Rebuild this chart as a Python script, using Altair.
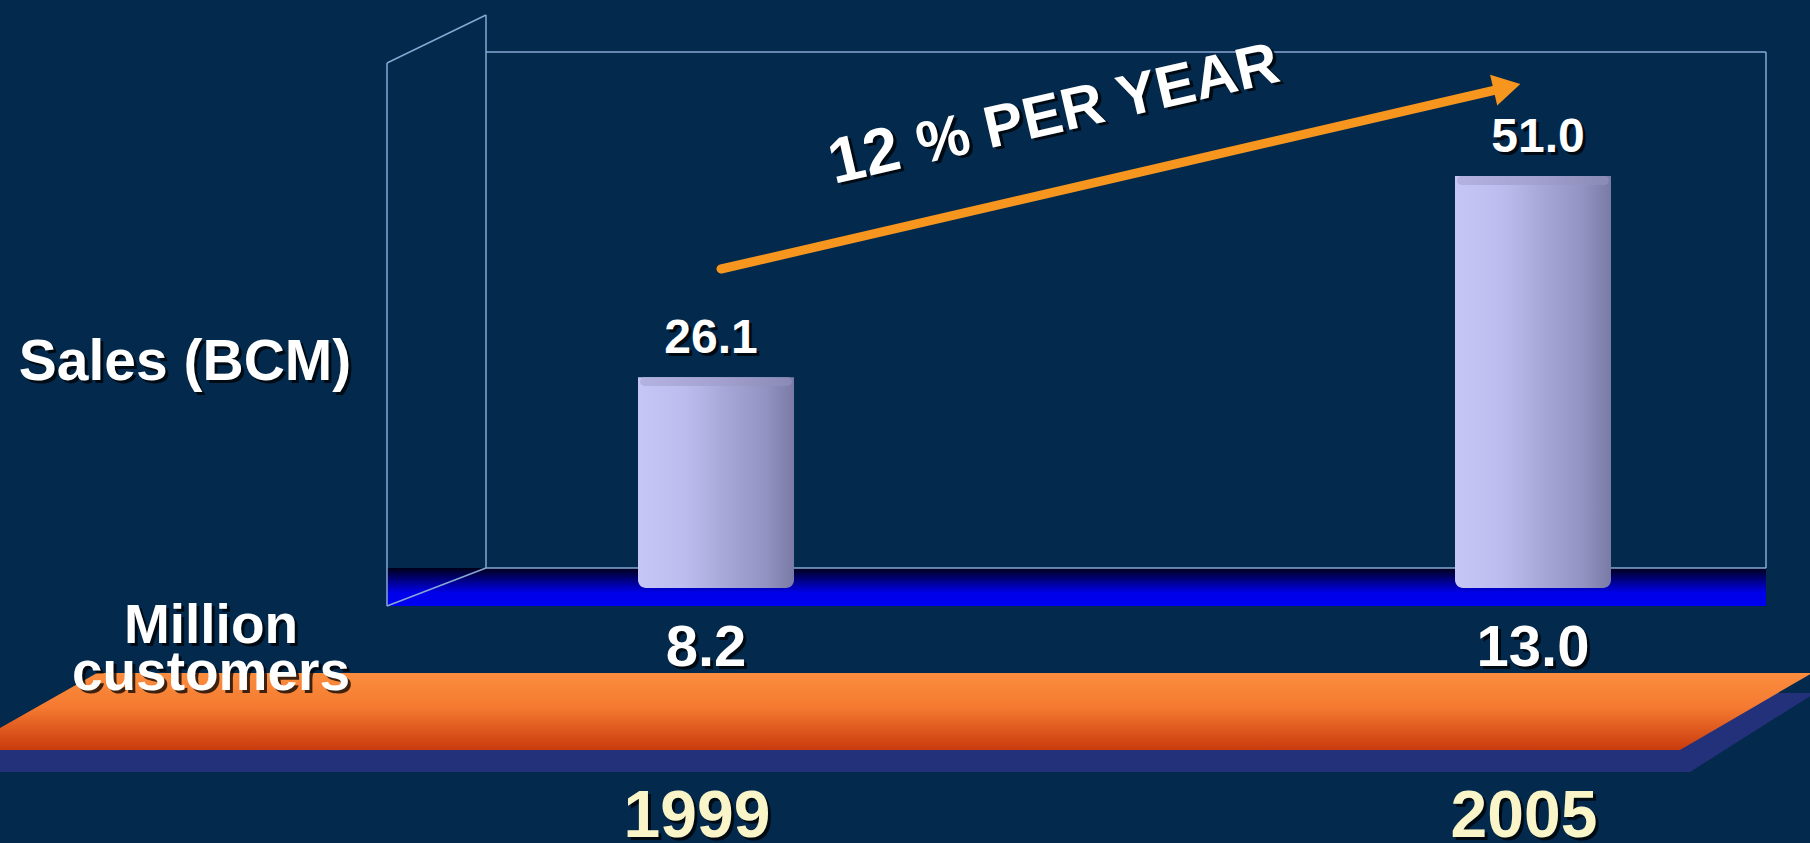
import altair as alt
import pandas as pd

# ---------------- data ----------------
years = [1999, 2005]
sales_bcm = [26.1, 51.0]
million_customers = [8.2, 13.0]
year_labels = ["1999", "2005"]

sales_title = "Sales (BCM)"
customers_title = ["Million", "customers"]
growth_big = "12"
growth_rest = "% PER YEAR"

df = pd.DataFrame({
    "year": years,
    "sales": sales_bcm,
    "customers": million_customers,
    "year_label": year_labels,
})
one = pd.DataFrame({"k": [0]})

# ---------------- styling ----------------
BG = "#03294d"
FONT = "Liberation Sans"
FRAME = "#87a7d4"
WHITE = "#ffffff"
SHADOW = "#000000"

x_scale = alt.Scale(domain=[1999, 2005], range=[711, 1538], zero=False, nice=False)
y_scale = alt.Scale(domain=[0, 51], range=[588, 176], zero=True, nice=False)
X = alt.X("year:Q", scale=x_scale, axis=None)

# ---------------- decorations ----------------
band_shape = pd.DataFrame({"y": [673, 750], "xl": [97, -39], "xr": [1812, 1680]})
shadow_shape = pd.DataFrame({"y": [693, 772], "xl": [97, -45], "xr": [1815, 1690]})

shadow_band = alt.Chart(shadow_shape).mark_area(orient="horizontal", color="#23307a").encode(
    y=alt.Y("y:Q", scale=None, axis=None),
    x=alt.X("xl:Q", scale=None, axis=None),
    x2="xr:Q",
)
orange_band = alt.Chart(band_shape).mark_area(
    orient="horizontal",
    color=alt.LinearGradient(
        gradient="linear", x1=0, y1=0, x2=0, y2=1,
        stops=[alt.GradientStop(offset=0, color="#fb8d3f"),
               alt.GradientStop(offset=0.45, color="#f47a30"),
               alt.GradientStop(offset=1, color="#c93a0d")],
    ),
).encode(
    y=alt.Y("y:Q", scale=None, axis=None),
    x=alt.X("xl:Q", scale=None, axis=None),
    x2="xr:Q",
)

floor = alt.Chart(one).mark_rect(
    color=alt.LinearGradient(
        gradient="linear", x1=0, y1=0, x2=0, y2=1,
        stops=[alt.GradientStop(offset=0, color="#000018"),
               alt.GradientStop(offset=0.35, color="#00008c"),
               alt.GradientStop(offset=0.65, color="#0000e8"),
               alt.GradientStop(offset=1, color="#0000f2")],
    )
).encode(x=alt.value(387), x2=alt.value(1766), y=alt.value(568), y2=alt.value(606))

frame_segments = [
    (486, 52, 1766, 52),
    (1766, 52, 1766, 568),
    (486, 568, 1766, 568),
    (486, 15, 486, 568),
    (387, 63, 486, 15),
    (387, 63, 387, 606),
    (387, 606, 486, 568),
]
frame_layers = [
    alt.Chart(one).mark_rule(color=FRAME, strokeWidth=1.5).encode(
        x=alt.value(a), y=alt.value(b), x2=alt.value(c), y2=alt.value(d)
    )
    for a, b, c, d in frame_segments
]

arrow_line = alt.Chart(one).mark_rule(color="#f7961f", strokeWidth=9, strokeCap="round").encode(
    x=alt.value(721), y=alt.value(269), x2=alt.value(1500), y2=alt.value(89)
)
arrow_head = alt.Chart(one).mark_point(
    shape="triangle-right", filled=True, color="#f7961f", opacity=1, size=1000, angle=347
).encode(x=alt.value(1507), y=alt.value(87))

# ---------------- bars (cylinders) ----------------
bars = alt.Chart(df).mark_bar(
    size=156,
    cornerRadiusBottomLeft=8, cornerRadiusBottomRight=8,
    color=alt.LinearGradient(
        gradient="linear", x1=0, y1=0, x2=1, y2=0,
        stops=[alt.GradientStop(offset=0, color="#c6c6f6"),
               alt.GradientStop(offset=0.3, color="#bcbcee"),
               alt.GradientStop(offset=0.55, color="#a8a8d8"),
               alt.GradientStop(offset=0.82, color="#9393c3"),
               alt.GradientStop(offset=1, color="#7a7aa6")],
    ),
).encode(
    x=X,
    y=alt.Y("sales:Q", scale=y_scale, axis=None),
    y2=alt.Y2(datum=0),
)
caps = alt.Chart(df).transform_calculate(cap="datum.sales - 1.1").mark_bar(
    size=152, cornerRadius=7,
    color=alt.LinearGradient(
        gradient="linear", x1=0, y1=0, x2=1, y2=0,
        stops=[alt.GradientStop(offset=0, color="#b4b2e0"),
               alt.GradientStop(offset=0.5, color="#a4a2d0"),
               alt.GradientStop(offset=1, color="#8a8ab6")],
    ),
).encode(
    x=X,
    y=alt.Y("sales:Q", scale=y_scale, axis=None),
    y2="cap:Q",
)

# ---------------- text ----------------
def shadowed(chart_fn):
    return [chart_fn(SHADOW, 3, 3, 0.75), chart_fn(WHITE, 0, 0, 1)]

def sales_labels(col, dx, dy, op):
    return alt.Chart(df).mark_text(
        font=FONT, fontSize=48, fontWeight="bold", color=col, opacity=op,
        baseline="alphabetic", align="center", dx=dx, dy=-24 + dy,
    ).encode(x=X, y=alt.Y("sales:Q", scale=y_scale, axis=None),
             text=alt.Text("sales:Q", format=".1f"))

def cust_labels(col, dx, dy, op):
    return alt.Chart(df).mark_text(
        font=FONT, fontSize=58, fontWeight="bold", color=col, opacity=op,
        baseline="alphabetic", align="center", dx=-5 + dx, dy=dy,
    ).encode(x=X, y=alt.value(666), text=alt.Text("customers:Q", format=".1f"))

def year_text(col, dx, dy, op):
    c = "#f9f5c9" if col == WHITE else col
    return alt.Chart(df).mark_text(
        font=FONT, fontSize=66, fontWeight="bold", color=c, opacity=op,
        baseline="alphabetic", align="center", dx=-14 + dx, dy=dy,
    ).encode(x=X, y=alt.value(837), text=alt.Text("year_label:N"))

def sales_title_text(col, dx, dy, op):
    return alt.Chart(one).mark_text(
        font=FONT, fontSize=57, fontWeight="bold", color=col, opacity=op,
        baseline="alphabetic", align="center", dx=dx, dy=dy,
    ).encode(x=alt.value(185), y=alt.value(380), text=alt.value(sales_title))

def cust_title_text(col, dx, dy, op):
    return alt.Chart(one).mark_text(
        font=FONT, fontSize=55, fontWeight="bold", color=col, opacity=op,
        baseline="alphabetic", align="center", lineHeight=47, dx=dx, dy=dy,
    ).encode(x=alt.value(211), y=alt.value(643), text=alt.value(customers_title))

def growth_big_text(col, dx, dy, op):
    return alt.Chart(one).mark_text(
        font=FONT, fontSize=64, fontWeight="bold", color=col, opacity=op,
        baseline="alphabetic", align="left", angle=347, dx=dx, dy=dy,
    ).encode(x=alt.value(834), y=alt.value(184), text=alt.value(growth_big))

def growth_rest_text(col, dx, dy, op):
    return alt.Chart(one).mark_text(
        font=FONT, fontSize=59, fontWeight="bold", color=col, opacity=op,
        baseline="alphabetic", align="left", angle=347, dx=dx, dy=dy,
    ).encode(x=alt.value(922), y=alt.value(164), text=alt.value(growth_rest))

texts = []
for fn in [sales_labels, cust_labels, year_text, sales_title_text, cust_title_text,
           growth_big_text, growth_rest_text]:
    texts += shadowed(fn)

chart = alt.layer(
    shadow_band, orange_band, floor, *frame_layers,
    bars, caps, arrow_line, arrow_head, *texts,
).resolve_scale(x="independent", y="independent").properties(
    width=1810, height=843, padding=0, background=BG,
    autosize=alt.AutoSizeParams(type="none"),
).configure_view(stroke=None)

chart.save("out.html", embed_options={"renderer": "svg", "actions": False})
